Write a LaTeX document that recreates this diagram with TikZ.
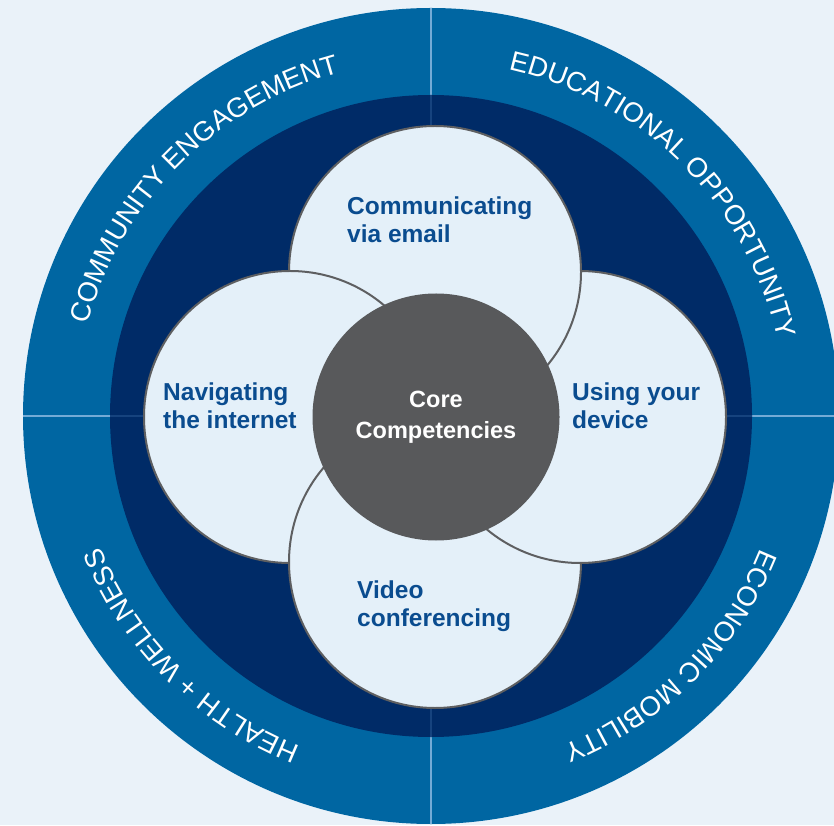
\documentclass[tikz,border=0pt]{standalone}
\usepackage{fontspec}
\setmainfont{Liberation Sans}
\usetikzlibrary{decorations.text}

\definecolor{pagebg}{HTML}{EAF2F9}
\definecolor{ringblue}{HTML}{0066A2}
\definecolor{ringnavy}{HTML}{002B67}
\definecolor{petalfill}{HTML}{E4F0F9}
\definecolor{petalline}{HTML}{5E5F61}
\definecolor{coregrey}{HTML}{58595B}
\definecolor{labelblue}{HTML}{0A4C8F}
\definecolor{divlight}{HTML}{74ABD6}
\definecolor{divdark}{HTML}{16437E}

\newcommand{\ringfont}{\fontsize{27.5}{27.5}\selectfont}

\begin{document}
\begin{tikzpicture}[x=1pt,y=1pt,line join=round]
    \tikzstyle{petal}=[fill=petalfill,draw=petalline,line width=2pt]
    \tikzstyle{skill}=[anchor=base west,align=left,inner sep=0pt,text=labelblue,font=\fontsize{24.5}{28}\selectfont\bfseries]
    \tikzstyle{core}=[circle,fill=coregrey,minimum size=247pt,inner sep=0pt,align=center,text=white,font=\fontsize{23.5}{31}\selectfont\bfseries]
    \tikzstyle{ringtext}=[decorate,decoration={text along path,text align=center}]

    \clip (0,0) rectangle (834,825);
    \fill[pagebg] (0,0) rectangle (834,825);
    \coordinate (hub)      at (431,409);
    \coordinate (email)    at (435,553);
    \coordinate (device)   at (580,408);
    \coordinate (video)    at (435,263);
    \coordinate (internet) at (290,408);

    % outer rings and the quarter lines
    \fill[ringblue] (hub) circle (408);
    \draw[divlight,line width=1.2pt] ([yshift=-408]hub) -- ([yshift=408]hub)
                                     ([xshift=-408]hub) -- ([xshift=408]hub);
    \fill[ringnavy] (hub) circle (321);
    \draw[divdark,line width=1.2pt] ([yshift=-321]hub) -- ([yshift=321]hub)
                                    ([xshift=-321]hub) -- ([xshift=321]hub);

    % ring labels, clockwise
    \path[ringtext,decoration={text={|\ringfont\color{white}|COMMUNITY ENGAGEMENT}}]
        ([shift={(175:355)}]hub) arc[start angle=175,end angle=95,radius=355];
    \path[ringtext,decoration={text={|\ringfont\color{white}|EDUCATIONAL OPPORTUNITY}}]
        ([shift={(85:355)}]hub) arc[start angle=85,end angle=5,radius=355];
    \path[ringtext,decoration={text={|\ringfont\color{white}|ECONOMIC MOBILITY}}]
        ([shift={(-5:355)}]hub) arc[start angle=-5,end angle=-85,radius=355];
    \path[ringtext,decoration={text={|\ringfont\color{white}|HEALTH + WELLNESS}}]
        ([shift={(-95:355)}]hub) arc[start angle=-95,end angle=-175,radius=355];

    % petals, each one over the next
    \draw[petal] (internet) circle (146);
    \draw[petal] (video) circle (146);
    \draw[petal] (device) circle (146);
    \draw[petal] (email) circle (146);
    \begin{scope}
        \clip (email) circle (149);
        \draw[petal] (internet) circle (146);
    \end{scope}

    \node[core]  (core)      at (436,408) {Core\\Competencies};
    \node[skill] (emailtxt)  at (347,582) {Communicating\\via email};
    \node[skill] (webtxt)    at (163,396) {Navigating\\the internet};
    \node[skill] (devicetxt) at (572,396) {Using your\\device};
    \node[skill] (videotxt)  at (357,199) {Video\\conferencing};
\end{tikzpicture}
\end{document}
